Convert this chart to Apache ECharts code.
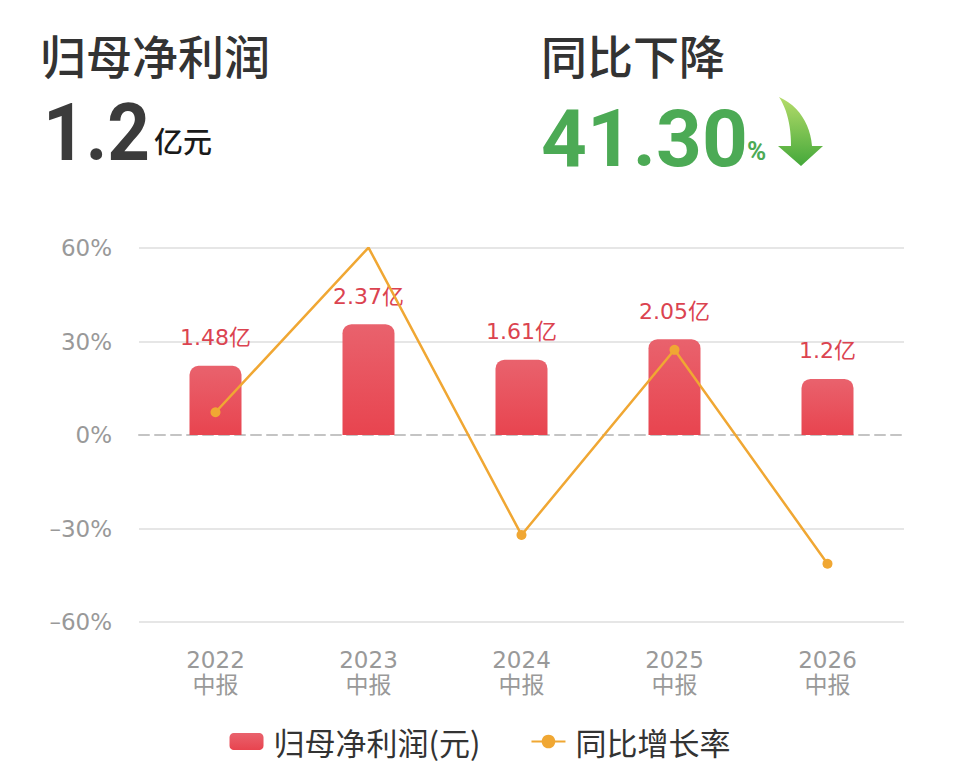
<!DOCTYPE html>
<html>
<head>
<meta charset="utf-8">
<script src="https://cdn.jsdelivr.net/npm/echarts@6/dist/echarts.min.js"></script>
<style>
  html, body { margin: 0; padding: 0; background: #fff; }
  #chart { width: 960px; height: 782px; }
</style>
</head>
<body>
<div id="chart"></div>
<script>
var categories = ['2022\n中报', '2023\n中报', '2024\n中报', '2025\n中报', '2026\n中报'];
var profit = [148000000, 237000000, 161000000, 205000000, 120000000];
var growth = [7.3, 60.14, -32.07, 27.33, -41.3];
var rateTicks = [-60, -30, 0, 30, 60];

var cjk = '"Noto Sans CJK SC", "Noto Sans", sans-serif';
var num = 'Roboto, "Noto Sans", sans-serif';
var thin = '"DejaVu Sans", "Noto Sans CJK SC", sans-serif';

// curved arrow outline for the header (decoration only)
function bez(p0, p1, p2, p3, n) {
  var out = [];
  for (var i = 0; i <= n; i++) {
    var t = i / n, u = 1 - t;
    out.push([
      u * u * u * p0[0] + 3 * u * u * t * p1[0] + 3 * u * t * t * p2[0] + t * t * t * p3[0],
      u * u * u * p0[1] + 3 * u * u * t * p1[1] + 3 * u * t * t * p2[1] + t * t * t * p3[1]
    ]);
  }
  return out;
}
var arrowPts = bez([779, 97], [799, 106], [810, 124], [812, 146], 12)
  .concat([[823, 146], [801, 166], [778, 146], [791, 146]])
  .concat(bez([791, 146], [791, 126], [787, 109], [779, 97], 12));

var chart = echarts.init(document.getElementById('chart'), null, { renderer: 'svg' });
chart.setOption({
  animation: false,
  backgroundColor: '#fff',
  textStyle: { fontFamily: cjk },
  graphic: [
    { type: 'text', x: 40, y: 31, style: { text: '归母净利润', font: '500 46px ' + cjk, fill: '#333' } },
    { type: 'text', x: 541, y: 31, style: { text: '同比下降', font: '500 46px ' + cjk, fill: '#333' } },
    { type: 'text', x: 43, y: 93, scaleX: 0.93, style: { text: '1.2', font: 'bold 80px ' + num, fill: '#3b3b3b' } },
    { type: 'text', x: 154, y: 125, style: { text: '亿元', font: '500 29px ' + cjk, fill: '#1a1a1a' } },
    { type: 'text', x: 541, y: 99, style: { text: '41.30', font: 'bold 80px ' + num, fill: '#4caa55' } },
    { type: 'text', x: 747, y: 138, style: { text: '%', font: 'bold 26px ' + num, fill: '#4caa55' } },
    {
      type: 'polygon',
      shape: { points: arrowPts },
      style: {
        fill: {
          type: 'linear', x: 0, y: 0, x2: 0, y2: 1,
          colorStops: [{ offset: 0, color: '#b5dc6a' }, { offset: 1, color: '#44a83a' }]
        }
      }
    }
  ],
  legend: {
    bottom: 20,
    left: 'center',
    itemGap: 50,
    itemWidth: 34,
    itemHeight: 17,
    textStyle: { color: '#333', fontSize: 31, fontFamily: cjk, padding: [0, 0, 0, 5] },
    data: [
      { name: '归母净利润(元)', icon: 'roundRect' },
      { name: '同比增长率' }
    ]
  },
  grid: { left: 139, right: 56, top: 248, bottom: 160 },
  xAxis: {
    type: 'category',
    data: categories,
    axisTick: { show: false },
    axisLine: { onZero: true, lineStyle: { color: '#c4c4c4', width: 2, type: [10, 6] } },
    axisLabel: { color: '#999', fontSize: 23, lineHeight: 25, margin: 25, fontFamily: thin }
  },
  yAxis: [
    {
      type: 'value',
      min: rateTicks[0],
      max: rateTicks[rateTicks.length - 1],
      interval: 30,
      axisLine: { show: false },
      axisTick: { show: false },
      axisLabel: {
        color: '#999', fontSize: 23, margin: 27, fontFamily: thin,
        formatter: function (v) { return (v < 0 ? '\u2013' + Math.abs(v) : v) + '%'; }
      },
      splitLine: { lineStyle: { color: ['#e6e6e6', '#e6e6e6', 'rgba(0,0,0,0)', '#e6e6e6', '#e6e6e6'], width: 2 } }
    },
    {
      type: 'value',
      min: -400000000,
      max: 400000000,
      show: false,
      splitLine: { show: false }
    }
  ],
  series: [
    {
      name: '归母净利润(元)',
      type: 'bar',
      yAxisIndex: 1,
      data: profit,
      barWidth: 52,
      itemStyle: {
        borderRadius: [9, 9, 0, 0],
        color: {
          type: 'linear', x: 0, y: 0, x2: 0, y2: 1,
          colorStops: [{ offset: 0, color: '#e9626d' }, { offset: 1, color: '#e8444f' }]
        }
      },
      label: {
        show: true,
        position: 'top',
        distance: 17,
        color: '#db4350',
        fontSize: 22,
        fontFamily: thin,
        formatter: function (p) { return (p.value / 1e8) + '亿'; }
      }
    },
    {
      name: '同比增长率',
      type: 'line',
      yAxisIndex: 0,
      data: growth,
      symbol: 'circle',
      symbolSize: 10,
      lineStyle: { color: '#f0a733', width: 2.5 },
      itemStyle: { color: '#f0a733' }
    }
  ]
});
</script>
</body>
</html>
